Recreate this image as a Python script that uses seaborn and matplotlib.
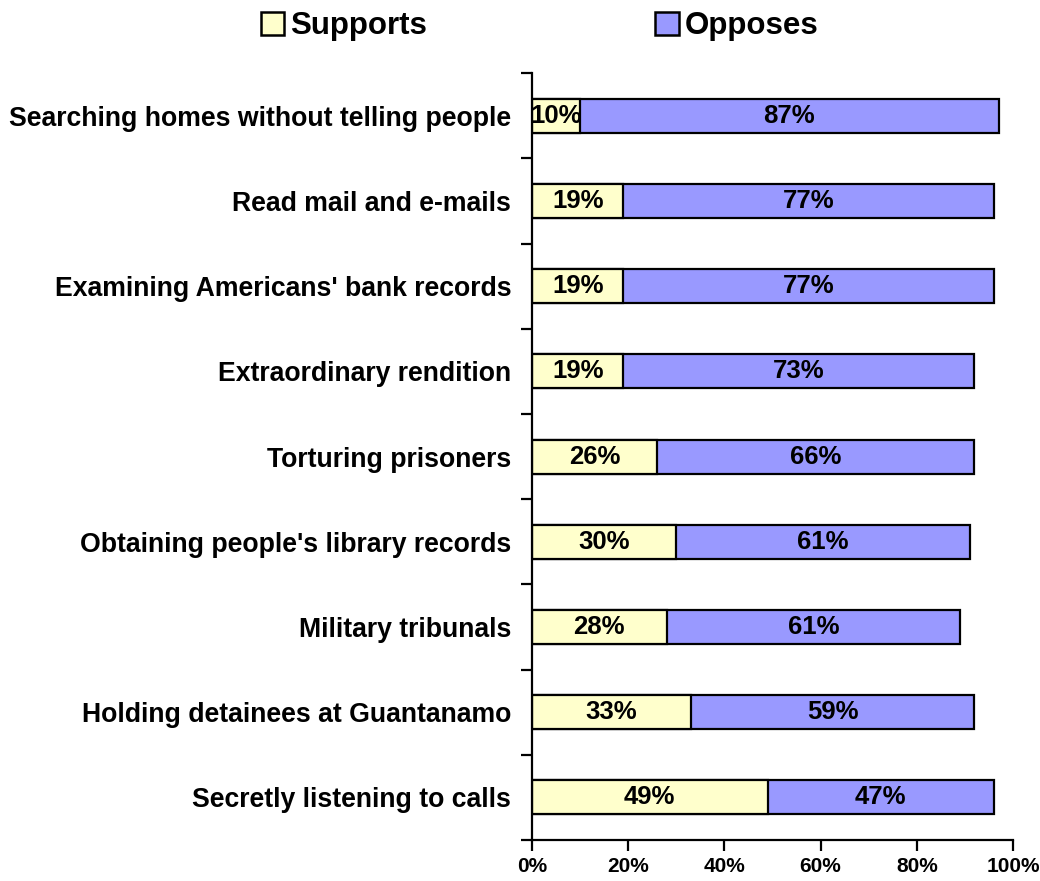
import matplotlib
matplotlib.use("Agg")
import matplotlib.pyplot as plt
import seaborn as sns
import pandas as pd
from matplotlib.patches import Patch
from matplotlib.ticker import FixedLocator, PercentFormatter

# data
categories = [
    "Searching homes without telling people",
    "Read mail and e-mails",
    "Examining Americans' bank records",
    "Extraordinary rendition",
    "Torturing prisoners",
    "Obtaining people's library records",
    "Military tribunals",
    "Holding detainees at Guantanamo",
    "Secretly listening to calls",
]
supports = [10, 19, 19, 19, 26, 30, 28, 33, 49]
opposes = [87, 77, 77, 73, 66, 61, 61, 59, 47]

support_color = "#FFFFCC"
oppose_color = "#9999FF"

df = pd.DataFrame({"item": categories, "Supports": supports, "Opposes": opposes})
df["total"] = df["Supports"] + df["Opposes"]

sns.set_style("white")
plt.rcParams["font.family"] = ["Liberation Sans", "DejaVu Sans"]
plt.rcParams["font.weight"] = "bold"
plt.rcParams["text.color"] = "black"
plt.rcParams["xtick.color"] = "black"
plt.rcParams["ytick.color"] = "black"

fig = plt.figure(figsize=(10.4, 8.81), dpi=100)
ax = fig.add_axes([0.5115, 0.0465, 0.4625, 0.8705])

# stacked bars: draw the total in the "opposes" colour, then supports over it
sns.barplot(data=df, x="total", y="item", color=oppose_color, orient="h",
            width=0.4, edgecolor="black", linewidth=1.6, saturation=1, ax=ax)
sns.barplot(data=df, x="Supports", y="item", color=support_color, orient="h",
            width=0.4, edgecolor="black", linewidth=1.6, saturation=1, ax=ax)

for i, row in df.iterrows():
    ax.text(row["Supports"] / 2, i, f"{row['Supports']}%", ha="center", va="center",
            fontsize=18.5, fontweight="bold", color="black")
    ax.text(row["Supports"] + row["Opposes"] / 2, i, f"{row['Opposes']}%",
            ha="center", va="center", fontsize=18.5, fontweight="bold", color="black")

ax.set_xlim(0, 100)
ax.set_ylim(len(categories) - 0.5, -0.5)
ax.set_xticks(range(0, 101, 20))
ax.xaxis.set_major_formatter(PercentFormatter(decimals=0))
ax.yaxis.set_minor_locator(FixedLocator([i - 0.5 for i in range(len(categories) + 1)]))
ax.tick_params(axis="y", which="major", length=0, pad=15, labelsize=19.2)
ax.tick_params(axis="y", which="minor", length=8, width=1.6, direction="out", left=True)
ax.tick_params(axis="x", length=8, width=1.6, direction="out", bottom=True, pad=4, labelsize=15)
for lab in ax.get_yticklabels() + ax.get_xticklabels():
    lab.set_fontweight("bold")
ax.set_xlabel("")
ax.set_ylabel("")

sns.despine(ax=ax, top=True, right=True)
for s in ["left", "bottom"]:
    ax.spines[s].set_color("black")
    ax.spines[s].set_linewidth(1.6)

handles = [Patch(facecolor=support_color, edgecolor="black", linewidth=1.8, label="Supports"),
           Patch(facecolor=oppose_color, edgecolor="black", linewidth=1.8, label="Opposes")]
fig.legend(handles=handles, loc="center", bbox_to_anchor=(0.519, 0.970), ncol=2,
           frameon=False, prop={"size": 22.5, "weight": "bold"},
           handlelength=0.75, handleheight=0.75, handletextpad=0.2, columnspacing=7.3)

fig.savefig("out.png", dpi=100)
